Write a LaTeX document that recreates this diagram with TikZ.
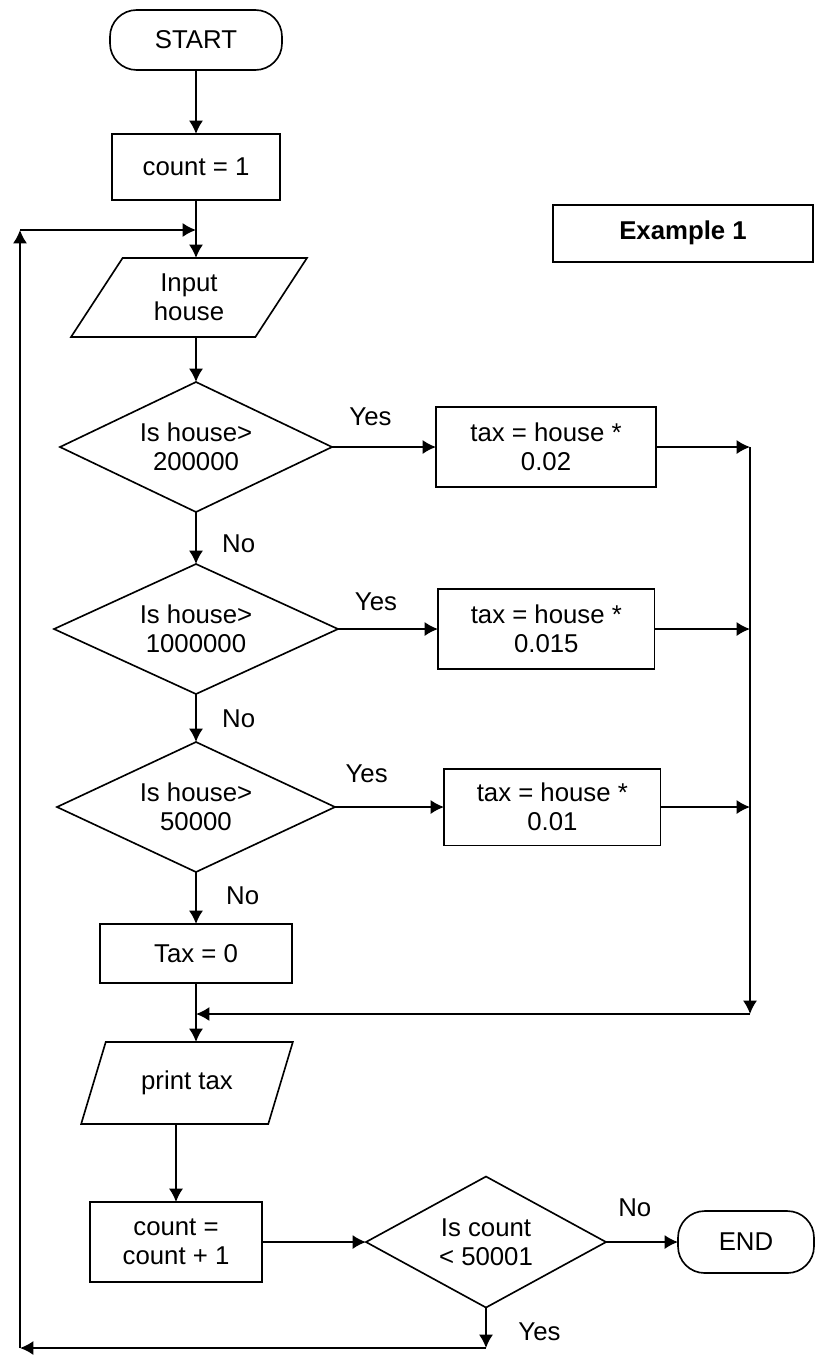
\documentclass[tikz,border=0pt]{standalone}
\usepackage{fontspec}
\setmainfont{Liberation Sans}
\usetikzlibrary{arrows.meta, positioning, shapes.geometric}

\begin{document}
\begin{tikzpicture}[
        font=\fontsize{22}{25}\selectfont,
        line width=1.4pt,
        box/.style={draw, rectangle, align=center, inner sep=0pt, outer sep=0pt},
        term/.style={draw, rectangle, rounded corners=0.8cm, align=center, inner sep=0pt, outer sep=0pt},
        io/.style={draw, trapezium, trapezium left angle=60, trapezium right angle=120, trapezium stretches=true, align=center, inner sep=0pt, outer sep=0pt},
        decision/.style={draw, diamond, shape aspect=2, align=center, inner sep=0pt, outer sep=0pt},
        lbl/.style={inner sep=0pt},
        >={Latex[length=0.4cm, width=0.42cm]}
    ]
        \useasboundingbox (0,0) rectangle (25.11,-40.77);

        % Nodes
        \node[term, minimum width=5.16cm, minimum height=1.8cm] (start) at (5.88,-1.2) {START};
        \node[box, minimum width=5.04cm, minimum height=1.98cm, below=1.92cm of start] (count1) {count = 1};
        \node[io, minimum width=7.08cm, minimum height=2.37cm, below=1.74cm of count1, xshift=-0.21cm] (input) {Input\\house};
        \node[decision, minimum width=8.16cm, minimum height=3.9cm, below=1.35cm of input, xshift=0.21cm] (d1) {Is house>\\200000};
        \node[decision, minimum width=8.52cm, minimum height=3.9cm, below=1.56cm of d1] (d2) {Is house>\\1000000};
        \node[decision, minimum width=8.34cm, minimum height=3.9cm, below=1.44cm of d2] (d3) {Is house>\\50000};
        \node[box, minimum width=5.76cm, minimum height=1.77cm, below=1.56cm of d3] (tax0) {Tax = 0};
        \node[io, minimum width=6.36cm, minimum height=2.46cm, below=1.77cm of tax0, xshift=-0.27cm] (print) {print tax};
        \node[box, minimum width=5.16cm, minimum height=2.4cm, below=2.34cm of print, xshift=-0.33cm] (count2) {count =\\count + 1};
        \node[decision, minimum width=7.2cm, minimum height=3.93cm, right=3.12cm of count2] (d4) {Is count\\< 50001};
        \node[term, minimum width=4.08cm, minimum height=1.86cm, right=2.16cm of d4] (stop) {END};
        \node[box, minimum width=6.6cm, minimum height=2.4cm, right=3.12cm of d1] (tax1) {tax = house *\\0.02};
        \node[box, minimum width=6.5cm, minimum height=2.4cm, right=3.0cm of d2] (tax2) {tax = house *\\0.015};
        \node[box, minimum width=6.5cm, minimum height=2.3cm, right=3.27cm of d3] (tax3) {tax = house *\\0.01};
        \node[box, minimum width=7.8cm, minimum height=1.71cm, font=\fontsize{22}{25}\selectfont\bfseries] (ex1) at (20.49,-7.0) {Example 1};

        \coordinate (rail) at (22.5,-30.42);
        \coordinate (loopb) at (0.6,-40.44);
        \coordinate (loopt) at (0.6,-6.9);

        % Arrows
        \draw[->] (start) -- (count1);
        \draw[->] (count1) -- (count1 |- input.north);
        \draw[->] (input.south -| d1) -- (d1);
        \draw[->] (d1) -- node[lbl, right=0.76cm, pos=0.62] {No} (d2);
        \draw[->] (d2) -- node[lbl, right=0.76cm, pos=0.52] {No} (d3);
        \draw[->] (d3) -- node[lbl, right=0.88cm, pos=0.46] {No} (tax0);
        \draw[->] (d1) -- node[lbl, above=0.6cm, pos=0.37] {Yes} (tax1);
        \draw[->] (d2) -- node[lbl, above=0.53cm, pos=0.38] {Yes} (tax2);
        \draw[->] (d3) -- node[lbl, above=0.7cm, pos=0.29] {Yes} (tax3);
        \draw[->] (tax1) -- (tax1 -| rail);
        \draw[->] (tax2) -- (tax2 -| rail);
        \draw[->] (tax3) -- (tax3 -| rail);
        \draw[->] (tax1 -| rail) -- (rail);
        \draw[->] (rail) -- (rail -| tax0);
        \draw[->] (tax0) -- (tax0 |- print.north);
        \draw[->] (print.south -| count2) -- (count2);
        \draw[->] (count2) -- (d4);
        \draw[->] (d4) -- node[lbl, above=0.74cm, pos=0.4] {No} (stop);
        \draw[->] (d4) -- node[lbl, right=0.95cm, pos=0.6] {Yes} (d4 |- loopb);
        \draw[->] (d4 |- loopb) -- (loopb);
        \draw[->] (loopb) -- (loopt);
        \draw[->] (loopt) -- (loopt -| count1);
\end{tikzpicture}
\end{document}
